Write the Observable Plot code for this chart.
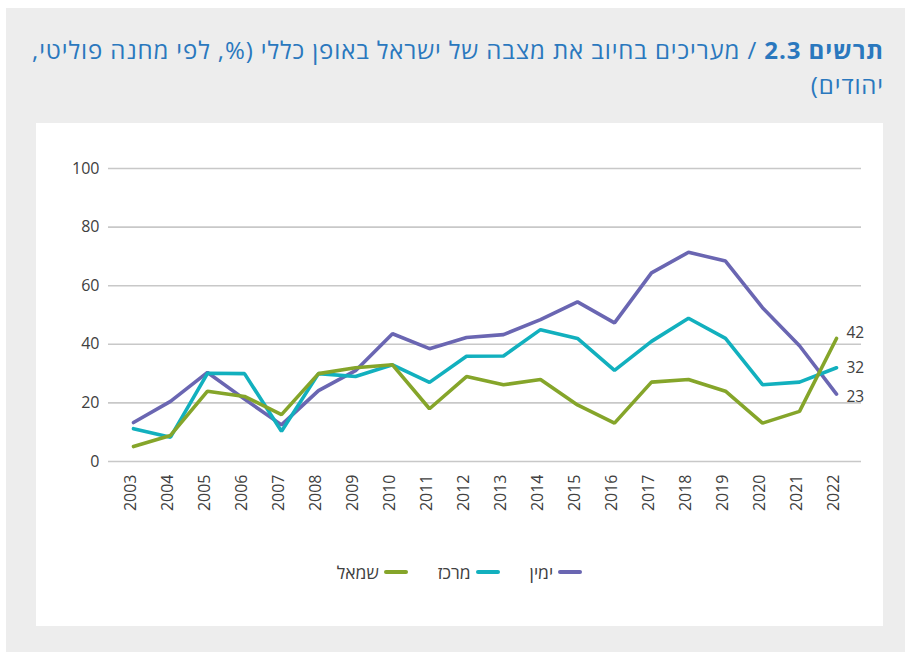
<!DOCTYPE html>
<html lang="he">
<head>
<meta charset="utf-8">
<script src="https://cdn.jsdelivr.net/npm/d3@7"></script>
<script src="https://cdn.jsdelivr.net/npm/@observablehq/plot@0.6"></script>
<style>
  html, body { margin: 0; padding: 0; background: #ffffff; }
  body { width: 905px; height: 652px; position: relative; overflow: hidden; font-family: "Open Sans", "Noto Sans", sans-serif; }
  #outer { position: absolute; left: 6px; top: 8px; width: 899px; height: 644px; background: #ededed; }
  #title { position: absolute; right: 21px; top: 32px; width: 880px; direction: rtl; text-align: right; white-space: nowrap;
           color: #2a78be; font-size: 24px; letter-spacing: 0.9px; line-height: 35px; }
  #title b { font-weight: 700; }
  #card { position: absolute; left: 36px; top: 123px; width: 847px; height: 503px; background: #ffffff; }
  #chart { position: absolute; left: 0; top: 0; }
  #legend { position: absolute; left: 0; top: 437px; width: 847px; display: flex; justify-content: center;
            direction: rtl; font-size: 17.5px; color: #404040; }
  .item { display: flex; align-items: center; margin: 0 15px; }
  .sw { display: inline-block; width: 24px; height: 4px; border-radius: 2px; margin-left: 5px; }
</style>
</head>
<body>
<div id="outer"></div>
<div id="title"><b>תרשים 2.3</b> / מעריכים בחיוב את מצבה של ישראל באופן כללי (%, לפי מחנה פוליטי,<br>יהודים)</div>
<div id="card">
  <div id="chart"></div>
  <div id="legend"></div>
</div>
<script>
const years = [2003,2004,2005,2006,2007,2008,2009,2010,2011,2012,2013,2014,2015,2016,2017,2018,2019,2020,2021,2022];
const seriesNames = ["ימין", "מרכז", "שמאל"];
const seriesColors = ["#6a66b2", "#12b0be", "#85a52a"];
const right  = [13.3,20.5,30.4,21.3,12.5,24.2,31,43.6,38.5,42.3,43.3,48.4,54.5,47.3,64.4,71.4,68.4,52.5,39.5,23];
const center = [11.2,8.3,30.1,30,10.3,30,29,33,27,35.9,36,45,42,31.1,41,48.9,42,26.2,27.1,32];
const left   = [5.1,8.9,24,22.2,16,30,32,33,18,29,26.2,28,19.3,13.1,27.1,28,24,13.1,17.1,42];
const yTicks = [0,20,40,60,80,100];
const endLabels = [23, 32, 42];

const valuesBySeries = [right, center, left];
const data = [];
valuesBySeries.forEach((vals, s) => {
  vals.forEach((v, i) => data.push({year: String(years[i]), value: v, series: seriesNames[s]}));
});
const lastRows = seriesNames.map((name, s) => ({
  year: String(years[years.length - 1]),
  value: valuesBySeries[s][years.length - 1],
  label: String(endLabels[s]),
  series: name
}));

const plot = Plot.plot({
  width: 847,
  height: 430,
  marginLeft: 72,
  marginRight: 22,
  marginTop: 45,
  marginBottom: 92,
  style: { fontFamily: "'Open Sans', 'Noto Sans', sans-serif", fontSize: "16px", color: "#404040", background: "transparent" },
  x: { type: "point", domain: years.map(String), padding: 0.5, label: null },
  y: { domain: [0, 100], label: null },
  color: { domain: seriesNames, range: seriesColors },
  marks: [
    Plot.ruleY(yTicks, { stroke: "#c8c8c8", strokeWidth: 1.6 }),
    Plot.axisY({ ticks: yTicks, tickSize: 0, tickPadding: 9, fontSize: 16, label: null }),
    Plot.axisX({ tickSize: 0, tickRotate: -90, tickPadding: 13, dx: -3, fontSize: 16, label: null }),
    Plot.line(data, { x: "year", y: "value", z: "series", stroke: "series", strokeWidth: 3.6, strokeLinejoin: "miter", strokeLinecap: "round" }),
    Plot.text(lastRows.filter(d => d.series === "שמאל"), { x: "year", y: "value", text: "label", dx: 10, dy: -5, textAnchor: "start", fontSize: 15.5, fill: "#404040" }),
    Plot.text(lastRows.filter(d => d.series === "מרכז"), { x: "year", y: "value", text: "label", dx: 10, dy: 0, textAnchor: "start", fontSize: 15.5, fill: "#404040" }),
    Plot.text(lastRows.filter(d => d.series === "ימין"), { x: "year", y: "value", text: "label", dx: 10, dy: 3, textAnchor: "start", fontSize: 15.5, fill: "#404040" })
  ]
});
document.getElementById("chart").appendChild(plot);

const legend = document.getElementById("legend");
seriesNames.forEach((name, i) => {
  const it = document.createElement("span");
  it.className = "item";
  const sw = document.createElement("span");
  sw.className = "sw";
  sw.style.background = seriesColors[i];
  const t = document.createElement("span");
  t.textContent = name;
  it.appendChild(sw);
  it.appendChild(t);
  legend.appendChild(it);
});
</script>
</body>
</html>
